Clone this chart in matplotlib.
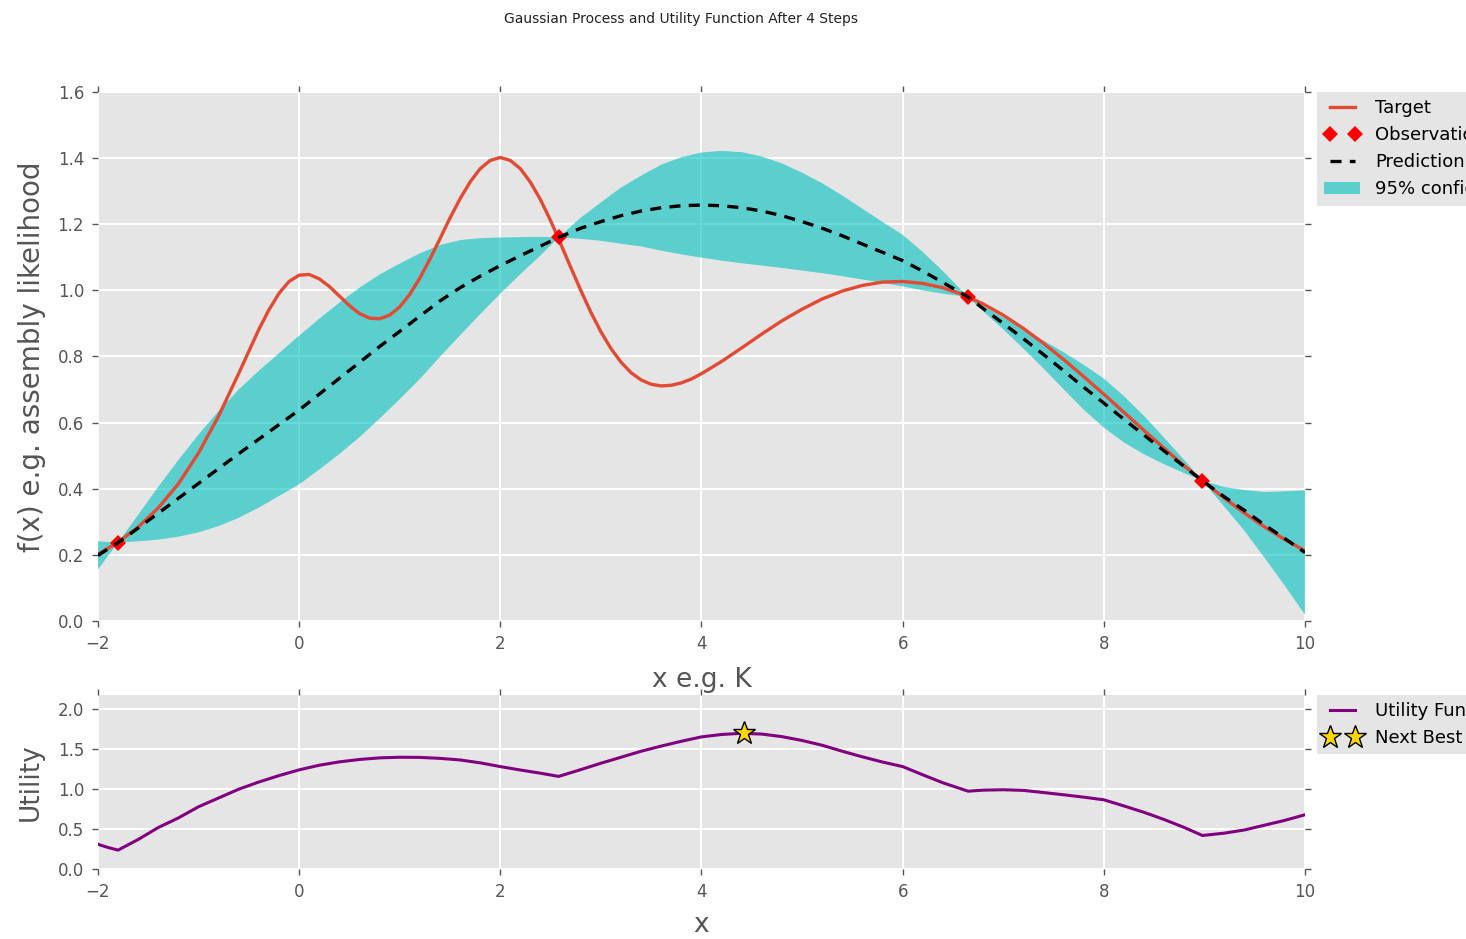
import matplotlib
matplotlib.use('Agg')
import matplotlib.pyplot as plt

plt.style.use('ggplot')

# target function
x_target = [-2.0, -1.8, -1.6, -1.4, -1.2, -1.0, -0.8, -0.6, -0.4,
            -0.3, -0.2, -0.1, 0.0, 0.1, 0.2, 0.3, 0.4, 0.5, 0.6, 0.7,
            0.8, 0.9, 1.0, 1.1, 1.2, 1.3, 1.4, 1.5, 1.6, 1.7, 1.8, 1.9,
            2.0, 2.1, 2.2, 2.3, 2.4, 2.5, 2.6, 2.7, 2.8, 2.9, 3.0,
            3.1, 3.2, 3.3, 3.4, 3.5, 3.6, 3.7, 3.8, 3.9, 4.0,
            4.2, 4.4, 4.6, 4.8, 5.0, 5.2, 5.4,
            5.6, 5.8, 6.0, 6.2, 6.4, 6.6, 6.8, 7.0, 7.2, 7.4, 7.6, 7.8,
            8.0, 8.2, 8.4, 8.6, 8.8, 9.0, 9.2, 9.4, 9.6, 9.8, 10.0]
y_target = [0.202, 0.238, 0.284, 0.342, 0.415, 0.508, 0.620, 0.749, 0.882,
            0.941, 0.991, 1.027, 1.046, 1.048, 1.035, 1.012, 0.983, 0.954, 0.930, 0.916,
            0.914, 0.925, 0.950, 0.988, 1.037, 1.094, 1.156, 1.219, 1.277, 1.328, 1.368, 1.393,
            1.402, 1.393, 1.368, 1.327, 1.274, 1.211, 1.141, 1.070, 1.000, 0.934, 0.875,
            0.824, 0.783, 0.751, 0.729, 0.716, 0.711, 0.713, 0.720, 0.732, 0.748,
            0.785, 0.826, 0.868, 0.908, 0.943, 0.974, 0.998,
            1.015, 1.025, 1.027, 1.021, 1.008, 0.987, 0.959, 0.925, 0.885, 0.840, 0.791, 0.739,
            0.686, 0.631, 0.576, 0.522, 0.469, 0.419, 0.371, 0.326, 0.284, 0.246, 0.212]

# observed points
obs_x = [-1.8, 2.58, 6.65, 8.98]
obs_y = [0.237, 1.160, 0.980, 0.424]

# GP prediction, 95% band and utility on the same grid
x_gp = [-2.0, -1.9, -1.8, -1.6, -1.4, -1.2, -1.0, -0.8, -0.6, -0.4, -0.2,
        0.0, 0.2, 0.4, 0.6, 0.8, 1.0, 1.2, 1.4, 1.6, 1.8, 2.0, 2.2, 2.4, 2.58,
        2.8, 3.0, 3.2, 3.4, 3.6, 3.8, 4.0, 4.2, 4.4, 4.6, 4.8, 5.0, 5.2, 5.4,
        5.6, 5.8, 6.0, 6.2, 6.4, 6.65, 6.8, 7.0, 7.2, 7.4, 7.6, 7.8, 8.0,
        8.2, 8.4, 8.6, 8.8, 8.98, 9.2, 9.4, 9.6, 9.8, 10.0]
mu = [0.198, 0.218, 0.237, 0.281, 0.326, 0.371, 0.416, 0.461, 0.506, 0.550, 0.594,
      0.638, 0.686, 0.734, 0.782, 0.830, 0.876, 0.922, 0.968, 1.008, 1.043, 1.075, 1.105, 1.134, 1.160,
      1.188, 1.208, 1.226, 1.240, 1.250, 1.256, 1.258, 1.256, 1.250, 1.240, 1.226, 1.208, 1.188, 1.165,
      1.140, 1.115, 1.090, 1.058, 1.024, 0.980, 0.945, 0.900, 0.854, 0.806, 0.757, 0.707, 0.659,
      0.610, 0.562, 0.514, 0.467, 0.424, 0.375, 0.334, 0.290, 0.249, 0.207]
upper = [0.241, 0.239, 0.237, 0.321, 0.406, 0.487, 0.564, 0.635, 0.700, 0.757, 0.810,
         0.863, 0.914, 0.963, 1.008, 1.048, 1.081, 1.112, 1.137, 1.152, 1.158, 1.160, 1.161, 1.162, 1.160,
         1.220, 1.266, 1.311, 1.347, 1.380, 1.403, 1.417, 1.422, 1.418, 1.405, 1.384, 1.356, 1.324, 1.287,
         1.247, 1.207, 1.168, 1.116, 1.058, 0.980, 0.953, 0.918, 0.884, 0.848, 0.813, 0.775, 0.733,
         0.680, 0.620, 0.554, 0.487, 0.424, 0.405, 0.396, 0.390, 0.392, 0.395]
lower = [0.155, 0.197, 0.237, 0.241, 0.246, 0.255, 0.268, 0.287, 0.312, 0.343, 0.378,
         0.413, 0.458, 0.505, 0.556, 0.612, 0.671, 0.732, 0.799, 0.864, 0.928, 0.990, 1.049, 1.106, 1.160,
         1.156, 1.150, 1.141, 1.133, 1.120, 1.109, 1.099, 1.090, 1.082, 1.075, 1.068, 1.060, 1.052, 1.043,
         1.033, 1.023, 1.012, 1.000, 0.990, 0.980, 0.937, 0.882, 0.824, 0.764, 0.701, 0.639, 0.585,
         0.540, 0.504, 0.474, 0.447, 0.424, 0.345, 0.272, 0.190, 0.106, 0.019]
utility = [0.31, 0.27, 0.237, 0.37, 0.52, 0.64, 0.78, 0.89, 1.00, 1.09, 1.17,
           1.242, 1.30, 1.342, 1.372, 1.392, 1.400, 1.398, 1.386, 1.366, 1.33, 1.283, 1.24, 1.20, 1.16,
           1.245, 1.325, 1.40, 1.475, 1.54, 1.60, 1.655, 1.685, 1.70, 1.69, 1.658, 1.61, 1.55, 1.475,
           1.405, 1.34, 1.283, 1.18, 1.08, 0.975, 0.988, 0.993, 0.985, 0.958, 0.93, 0.90, 0.867,
           0.79, 0.71, 0.62, 0.52, 0.42, 0.45, 0.49, 0.55, 0.61, 0.68]

next_x = [4.42]
next_y = [1.70]

fig = plt.figure(figsize=(14.66, 9.39), dpi=100)
fig.text(0.4645, 0.980, 'Gaussian Process and Utility Function After 4 Steps',
         ha='center', va='center', fontsize=10, color='#222222')

ax = fig.add_axes([0.0668, 0.3387, 0.8234, 0.5633])
acq = fig.add_axes([0.0668, 0.0745, 0.8234, 0.1854])

ax.plot(x_target, y_target, color='#E24A33', linewidth=2.4, label='Target')
ax.plot(obs_x, obs_y, 'D', color='r', markersize=8, markeredgewidth=0,
        label='Observations')
ax.plot(x_gp, mu, '--', color='k', linewidth=2.4, dashes=(3.3, 2.5), label='Prediction')
ax.fill_between(x_gp, lower, upper, facecolor='c', alpha=0.6, edgecolor='none',
                label='95% confidence interval')

ax.set_xlim(-2, 10)
ax.set_ylim(0, 1.6)
ax.set_yticks([0.0, 0.2, 0.4, 0.6, 0.8, 1.0, 1.2, 1.4, 1.6])
ax.set_ylabel('f(x) e.g. assembly likelihood', fontsize=20, color='#555555', labelpad=8)
ax.set_xlabel('x e.g. K', fontsize=19, color='#555555', labelpad=10)

acq.plot(x_gp, utility, color='purple', linewidth=2.2, label='Utility Function')
acq.plot(next_x, next_y, '*', markersize=17, markerfacecolor='gold',
         markeredgecolor='k', markeredgewidth=1, label='Next Best Guess')
acq.set_xlim(-2, 10)
acq.set_ylim(0, 2.18)
acq.set_yticks([0.0, 0.5, 1.0, 1.5, 2.0])
acq.set_ylabel('Utility', fontsize=19, color='#555555', labelpad=10)
acq.set_xlabel('x', fontsize=19, color='#555555', labelpad=8)

for a in (ax, acq):
    a.set_facecolor('#E5E5E5')
    a.grid(True, color='white', linewidth=1.4)
    a.tick_params(axis='both', which='both', direction='out', length=4, width=1,
                  colors='#555555', labelsize=12, top=True, right=True, pad=6)
    for s in a.spines.values():
        s.set_visible(False)
    a.legend(loc='upper left', bbox_to_anchor=(1.01, 1.0), borderaxespad=0.0,
             numpoints=2, fontsize=13, fancybox=False, framealpha=1.0,
             facecolor='#E5E5E5', edgecolor='none', handlelength=2.0)

fig.savefig('out.png', dpi=100)
